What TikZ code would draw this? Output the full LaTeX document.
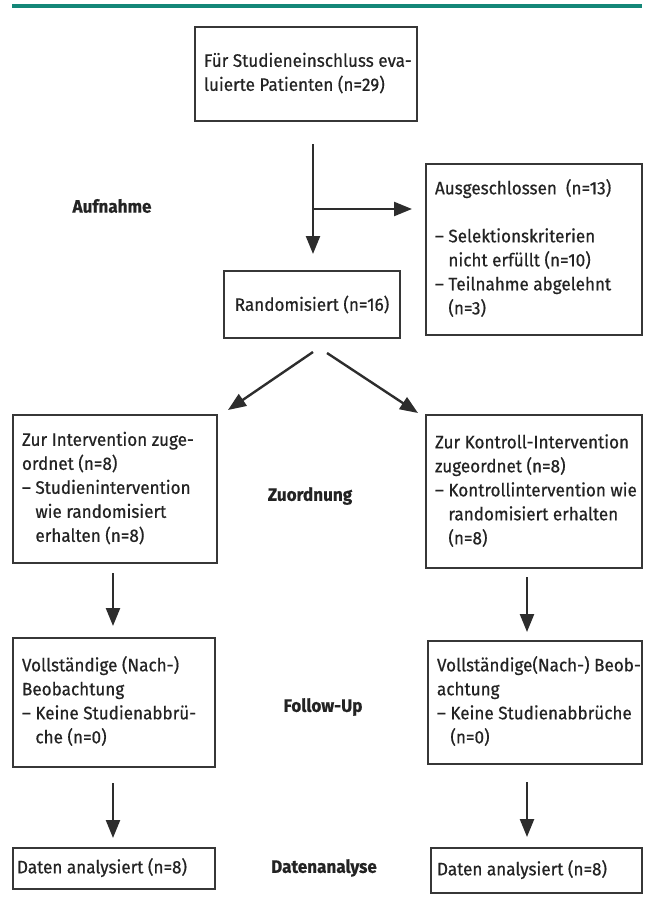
\documentclass[tikz,border=0pt]{standalone}
\usepackage{fontspec}
\setmainfont{Fira Sans}[FakeStretch=0.95, FakeBold=0.6]
\usetikzlibrary{arrows.meta}
\definecolor{teal1}{RGB}{20,135,120}
\definecolor{boxgray}{RGB}{55,55,55}
\definecolor{arrgray}{RGB}{45,45,45}
\definecolor{textgray}{RGB}{35,35,35}
\newcommand\bx[2]{\makebox[#1][l]{\begin{tabular}{@{}l@{}}#2\end{tabular}}}
\newcommand\ind{\phantom{–}\ }
\begin{document}
\begin{tikzpicture}[x=1pt,y=-1pt,
  flowbox/.style={draw=boxgray, line width=1.3pt, inner ysep=0pt, inner xsep=9pt, text=textgray, font=\fontsize{18}{24}\selectfont},
  phase/.style={font=\fontsize{18}{24}\selectfont\bfseries, text=textgray},
  flowarrow/.style={draw=arrgray, line width=2.4pt, -{Triangle[length=18pt,width=14pt]}}]
\useasboundingbox (0,0) rectangle (650,916);
\draw[teal1, line width=3.5pt] (12,6) -- (642,6);

% boxes
\node[flowbox, minimum width=222pt, minimum height=94pt] (top) at (306,74)
  {\bx{204pt}{Für Studieneinschluss eva-\\luierte Patienten (n=29)}};
\node[flowbox, minimum width=216pt, minimum height=171pt] (excl) at (534,249.5)
  {\bx{198pt}{Ausgeschlossen\ \ (n=13)\\ \\– Selektionskriterien\\\ind nicht erfüllt (n=10)\\– Teilnahme abgelehnt\\\ind (n=3)}};
\node[flowbox, minimum width=176pt, minimum height=67pt] (rand) at (312,304.5)
  {Randomisiert (n=16)};
\node[flowbox, minimum width=204pt, minimum height=148pt] (l2) at (115,489)
  {\bx{186pt}{Zur Intervention zuge-\\ordnet (n=8)\\– Studienintervention\\\ind wie randomisiert\\\ind erhalten (n=8)}};
\node[flowbox, minimum width=216pt, minimum height=153pt] (r2) at (534,491.5)
  {\bx{198pt}{Zur Kontroll-Intervention\\zugeordnet (n=8)\\– Kontrollintervention wie\\\ind randomisiert erhalten\\\ind (n=8)}};
\node[flowbox, minimum width=202pt, minimum height=129pt] (l3) at (114,702.5)
  {\bx{184pt}{Vollständige (Nach-)\\Beobachtung\\– Keine Studienabbrü-\\\ind che (n=0)}};
\node[flowbox, minimum width=214pt, minimum height=123pt] (r3) at (535,702.5)
  {\bx{196pt}{Vollständige(Nach-) Beob-\\achtung\\– Keine Studienabbrüche\\\ind (n=0)}};
\node[flowbox, inner xsep=4pt, minimum width=202pt, minimum height=41pt] (l4) at (114,868.5)
  {\bx{194pt}{Daten analysiert (n=8)}};
\node[flowbox, inner xsep=6pt, minimum width=211pt, minimum height=45pt] (r4) at (536.5,870.5)
  {\bx{199pt}{Daten analysiert (n=8)}};

% phase labels
\node[phase] (p1) at (112,206) {Aufnahme};
\node[phase] (p2) at (310,496) {Zuordnung};
\node[phase] (p3) at (323,707) {Follow-Up};
\node[phase] (p4) at (324,868) {Datenanalyse};

% connector ends
\coordinate (a1s) at (313,144);
\coordinate (a1e) at (313,254);
\coordinate (b1s) at (313,209);
\coordinate (b1e) at (412,209);
\coordinate (d1s) at (313,352);
\coordinate (d1e) at (228,410);
\coordinate (d2s) at (327,353);
\coordinate (d2e) at (418,413);
\coordinate (l2s) at (113,573);
\coordinate (l2e) at (113,626);
\coordinate (r2s) at (527,577);
\coordinate (r2e) at (527,632);
\coordinate (l3s) at (113,783);
\coordinate (l3e) at (113,838);
\coordinate (r3s) at (527,782);
\coordinate (r3e) at (527,837);

\draw[flowarrow] (a1s) -- (a1e);
\draw[flowarrow] (b1s) -- (b1e);
\draw[flowarrow] (d1s) -- (d1e);
\draw[flowarrow] (d2s) -- (d2e);
\draw[flowarrow] (l2s) -- (l2e);
\draw[flowarrow] (r2s) -- (r2e);
\draw[flowarrow] (l3s) -- (l3e);
\draw[flowarrow] (r3s) -- (r3e);
\end{tikzpicture}
\end{document}
